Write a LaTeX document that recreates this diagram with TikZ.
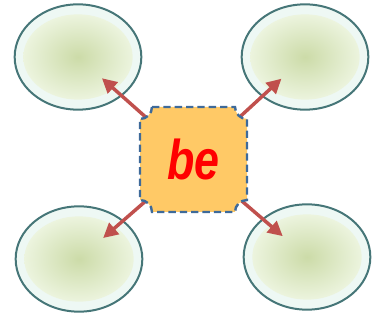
\documentclass[tikz,border=0pt]{standalone}
\usepackage{fontspec}
\usepackage{graphicx}
\usetikzlibrary{arrows.meta,shapes.geometric}
\newfontfamily\befont{Liberation Sans}

\definecolor{rimline}{RGB}{70,118,120}
\definecolor{rimfill}{RGB}{238,248,244}
\definecolor{coregreen}{RGB}{204,219,168}
\definecolor{corefade}{RGB}{236,244,222}
\definecolor{arrowred}{RGB}{192,80,77}
\definecolor{plaquefill}{RGB}{255,201,102}
\definecolor{plaqueline}{RGB}{62,106,154}

\tikzset{every picture/.style={line width=0.75pt},
  bubble/.style={ellipse, draw=rimline, line width=1.5pt, fill=rimfill,
    minimum width=95pt, minimum height=79pt, inner sep=0pt},
  core/.style={ellipse, inner color=coregreen, outer color=corefade,
    minimum width=82pt, minimum height=64pt, inner sep=0pt},
  linkarrow/.style={draw=arrowred, line width=2.6pt,
    -{Triangle[length=11pt,width=11pt]}, shorten >=24pt},
  plaque/.style={fill=plaquefill, draw=plaqueline, line width=1.8pt,
    dash pattern={on 5.5pt off 3pt}},
  betext/.style={text=red, inner sep=0pt,
    font=\befont\bfseries\itshape\fontsize{42}{44}\selectfont}}

\begin{document}
\begin{tikzpicture}[x=0.75pt,y=0.75pt,yscale=-1,xscale=1]
\useasboundingbox (0,0) rectangle (378,320);

%Ellipses
\node[bubble] (tl) at (78,57) {};
\node[core] at (tl) {};
\node[bubble] (tr) at (305,57) {};
\node[core] at (tr) {};
\node[bubble] (bl) at (79,259) {};
\node[core] at (bl) {};
\node[bubble] (br) at (307,257) {};
\node[core] at (br) {};

%Arrows
\coordinate (hub) at (193.5,159.5);
\draw[linkarrow] (hub) -- (tl.center);
\draw[linkarrow] (hub) -- (tr.center);
\draw[linkarrow] (hub) -- (bl.center);
\draw[linkarrow] (hub) -- (br.center);

%Shape: Plaque
\draw[plaque] (152,107) -- (235,107) arc[start angle=180, end angle=90, radius=12]
  -- (247,200) arc[start angle=270, end angle=180, radius=12]
  -- (152,212) arc[start angle=0, end angle=-90, radius=12]
  -- (140,119) arc[start angle=90, end angle=0, radius=12] -- cycle;

% Text Node
\node[betext] (be) at (hub) {\scalebox{0.8}[1]{be}};

\end{tikzpicture}
\end{document}
